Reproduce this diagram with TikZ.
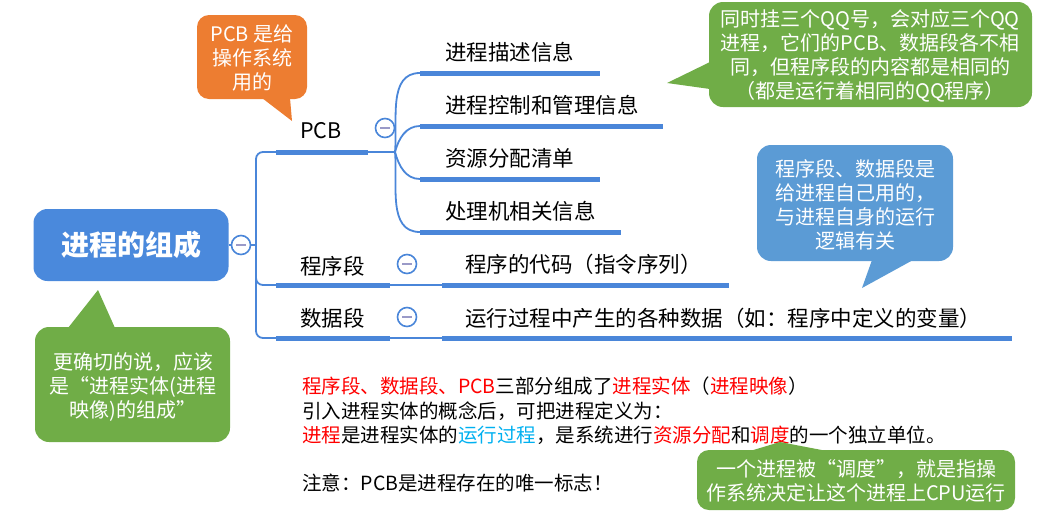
\documentclass[tikz,border=0pt]{standalone}
\usepackage{fontspec}
\setmainfont{Noto Sans CJK SC}
\definecolor{treeblue}{HTML}{4A86D9}
\definecolor{rootblue}{HTML}{4A89DC}
\definecolor{calorange}{HTML}{ED7D31}
\definecolor{calgreen}{HTML}{70AD47}
\definecolor{calblue}{HTML}{5B9BD5}
\definecolor{minusgray}{HTML}{9A9AC8}
\definecolor{hred}{HTML}{FF0000}
\definecolor{hcyan}{HTML}{00B0F0}
\newcommand\rtx[1]{\textcolor{hred}{#1}}
\newcommand\ctx[1]{\textcolor{hcyan}{#1}}
\begin{document}
\begin{tikzpicture}[x=1pt,y=-1pt,
  tline/.style={line width=5pt, draw=treeblue},
  thinline/.style={line width=1.8pt, draw=treeblue},
  lbl/.style={font=\fontsize{21.5}{25}\selectfont, anchor=west, inner sep=0pt, text=black},
  coll/.style={circle, draw=treeblue, line width=1.6pt, fill=white, minimum size=19pt, inner sep=0pt},
  minusbar/.style={line width=1.6pt, draw=minusgray},
  rootbox/.style={fill=rootblue, rounded corners=14pt, minimum width=195pt, minimum height=72pt,
    text=white, font=\fontsize{28}{32}\selectfont\bfseries, inner sep=0pt},
  notebox/.style={rounded corners=14pt, inner sep=0pt},
  notetext/.style={text=white, align=center, font=\fontsize{20}{24}\selectfont, inner sep=0pt},
  btxt/.style={anchor=west, inner sep=0pt, font=\fontsize{19.5}{24}\selectfont, text=black}
]
\useasboundingbox (0,0) rectangle (1051,512);

% ---------- callouts (backgrounds) ----------
% orange
\fill[calorange, rounded corners=12pt] (197,15) rectangle (307,99);
\fill[calorange] (262,98) -- (290,98) -- (292,121) -- cycle;
\node[notetext] (nOrange) at (252,58) {PCB 是给\\操作系统\\用的};
% green top right
\fill[calgreen, rounded corners=14pt] (709,2) rectangle (1032,107);
\fill[calgreen] (710,62) -- (710,89) -- (667,83) -- cycle;
\node[notetext] (nGreenTop) at (870,56) {同时挂三个QQ号，会对应三个QQ\\进程，它们的PCB、数据段各不相\\同，但程序段的内容都是相同的\\（都是运行着相同的QQ程序）};
% blue
\fill[calblue, rounded corners=14pt] (757,145) rectangle (953,261);
\fill[calblue] (872,260) -- (913,260) -- (862,288) -- cycle;
\node[notetext] (nBlue) at (855,205) {程序段、数据段是\\给进程自己用的，\\与进程自身的运行\\逻辑有关};
% green left
\fill[calgreen, rounded corners=14pt] (35,327) rectangle (230,442);
\fill[calgreen] (68,328) -- (115,328) -- (98,290) -- cycle;
\node[notetext] (nGreenLeft) at (133,387) {更确切的说，应该\\是“进程实体(进程\\映像)的组成”};

% ---------- tree ----------
\node[rootbox] (root) at (131,245) {进程的组成};
\coordinate (v0) at (256,245);
\coordinate (pcbA) at (276,152);  \coordinate (pcbB) at (368,152); \coordinate (pcbJ) at (395,152);
\coordinate (prgA) at (276,285);  \coordinate (prgB) at (390,285); \coordinate (prgC) at (442,285); \coordinate (prgD) at (729,285);
\coordinate (datA) at (276,338);  \coordinate (datB) at (390,338); \coordinate (datC) at (442,338); \coordinate (datD) at (1012,338);
\coordinate (k1A) at (420,73);  \coordinate (k1B) at (600,73);
\coordinate (k2A) at (420,126); \coordinate (k2B) at (663,126);
\coordinate (k3A) at (420,179); \coordinate (k3B) at (600,179);
\coordinate (k4A) at (420,232); \coordinate (k4B) at (621,232);

\draw[thinline] (root.east) -- (v0);
\draw[thinline, rounded corners=7pt] (pcbA) -- (256,152) -- (256,338) -- (datA);
\draw[thinline, rounded corners=7pt] (256,270) -- (256,285) -- (prgA);

\draw[tline] (pcbA) -- (pcbB);
\draw[thinline] (pcbB) -- (pcbJ);
\draw[thinline] (pcbJ) to[out=85,in=180] (k1A);
\draw[thinline] (pcbJ) to[out=75,in=180] (k2A);
\draw[thinline] (pcbJ) to[out=-75,in=180] (k3A);
\draw[thinline] (pcbJ) to[out=-85,in=180] (k4A);
\draw[tline] (k1A) -- (k1B);
\draw[tline] (k2A) -- (k2B);
\draw[tline] (k3A) -- (k3B);
\draw[tline] (k4A) -- (k4B);

\draw[tline] (prgA) -- (prgB);
\draw[thinline] (prgB) -- (prgC);
\draw[tline] (prgC) -- (prgD);
\draw[tline] (datA) -- (datB);
\draw[thinline] (datB) -- (datC);
\draw[tline] (datC) -- (datD);

% collapse circles
\node[coll] (c0) at (241,245) {};
\node[coll] (c1) at (385,128) {};
\node[coll] (c2) at (407,264) {};
\node[coll] (c3) at (407,317) {};
\foreach \c in {c0,c1,c2,c3}{\draw[minusbar] (\c.center) ++(-5,0) -- ++(10,0);}

% labels
\node[lbl] (lPCB) at (300,131) {PCB};
\node[lbl] (lPrg) at (300,266) {程序段};
\node[lbl] (lDat) at (300,318) {数据段};
\node[lbl] (l1) at (445,52) {进程描述信息};
\node[lbl] (l2) at (445,105) {进程控制和管理信息};
\node[lbl] (l3) at (445,158) {资源分配清单};
\node[lbl] (l4) at (445,211) {处理机相关信息};
\node[lbl] (l5) at (465,264) {程序的代码（指令序列）};
\node[lbl] (l6) at (465,318) {运行过程中产生的各种数据（如：程序中定义的变量）};

% ---------- bottom text ----------
\node[btxt] (b1) at (302,386) {\rtx{程序段、数据段、PCB}三部分组成了\rtx{进程实体}（\rtx{进程映像}）};
\node[btxt] (b2) at (302,411) {引入进程实体的概念后，可把进程定义为：};
\node[btxt] (b3) at (302,435) {\rtx{进程}是进程实体的\ctx{运行过程}，是系统进行\rtx{资源分配}和\rtx{调度}的一个独立单位。};
\node[btxt] (b4) at (302,483) {注意：PCB是进程存在的唯一标志！};

% bottom green callout
\fill[calgreen, rounded corners=12pt] (697,450) rectangle (1015,510);
\fill[calgreen] (750,451) -- (827,451) -- (780,442) -- cycle;
\node[notetext] (nGreenBot) at (856,481) {一个进程被“调度”，就是指操\\作系统决定让这个进程上CPU运行};
\end{tikzpicture}
\end{document}
